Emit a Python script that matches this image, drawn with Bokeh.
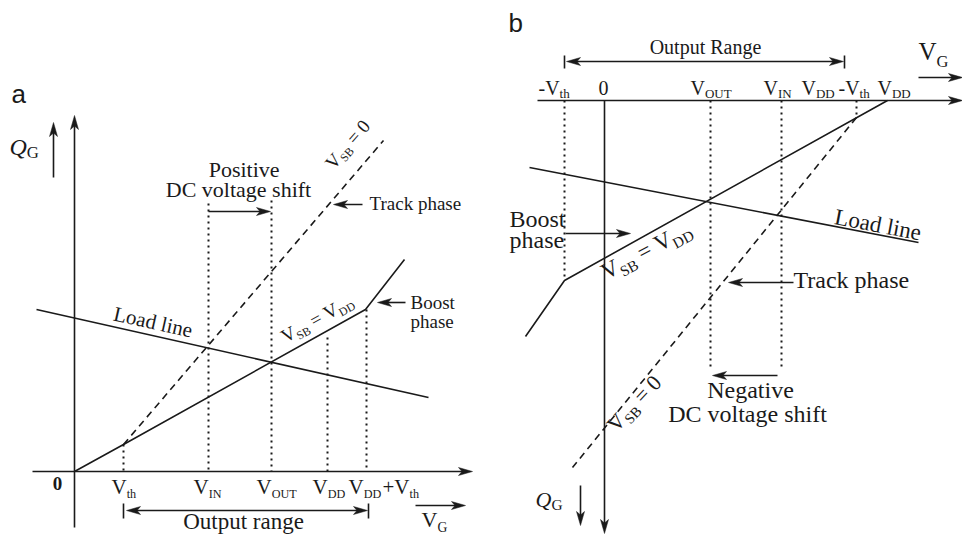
import math
from bokeh.plotting import figure
from bokeh.models import Range1d, ColumnDataSource
from bokeh.core.properties import value
from bokeh.embed import file_html
from bokeh.resources import INLINE

# ---------------- diagram data (page-pixel units) ----------------
# Panel a
A_SOLID_X = [74, 123, 365, 404]
A_SOLID_Y = [471, 444, 309, 259]
A_TRACK_X = [123, 383]
A_TRACK_Y = [444, 140]
A_LOAD_X = [36, 428]
A_LOAD_Y = [309, 397]
A_DOT_X = [123, 208, 271, 327, 366]
A_DOT_TOP = [444, 203, 200, 337, 309]
A_DOT_BOTTOM = [471, 471, 471, 471, 471]
A_RANGE_BAR_X = [123, 368]
A_RANGE_BAR_Y = [503, 518]
# Panel b
B_SOLID_X = [887, 564, 525]
B_SOLID_Y = [100, 280, 336]
B_TRACK_X = [856, 572]
B_TRACK_Y = [117, 467]
B_LOAD_X = [529, 918]
B_LOAD_Y = [167, 242]
B_DOT_X = [564, 710, 781, 856]
B_DOT_TOP = [100, 100, 100, 100]
B_DOT_BOTTOM = [279, 370, 370, 117]
B_RANGE_BAR_X = [564, 844]
B_RANGE_BAR_Y = [55, 68]

# arrows: (x_start, y_start, x_tip, y_tip, double)
ARROWS = [
    (32, 471, 472, 471, False),    # a: V_G axis
    (74, 527, 74, 115, False),     # a: Q_G axis
    (53, 177, 53, 122, False),     # a: Q_G direction
    (208, 211, 270, 211, False),   # a: positive shift
    (362, 204, 333, 204, False),   # a: track phase
    (405, 302, 377, 302, False),   # a: boost phase
    (126, 510, 367, 510, True),    # a: output range
    (415, 505, 465, 505, False),   # a: V_G direction
    (537, 100, 962, 100, False),   # b: V_G axis
    (604, 100, 604, 533, False),   # b: Q_G axis
    (580, 485, 580, 525, False),   # b: Q_G direction
    (566, 61, 843, 61, True),      # b: output range
    (918, 77, 962, 77, False),     # b: V_G direction
    (565, 233, 630, 233, False),   # b: boost phase
    (793, 282, 728, 282, False),   # b: track phase
    (777, 375, 712, 375, False),   # b: negative shift
]

A_TICKS = [
    ([("V", "n"), ("th", "s")], 111),
    ([("V", "n"), ("IN", "s")], 193),
    ([("V", "n"), ("OUT", "s")], 256),
    ([("V", "n"), ("DD", "s")], 312),
    ([("V", "n"), ("DD", "s")], 348),
    ([("+V", "n"), ("th", "s")], 382),
]
B_TICKS = [
    ([("-V", "n"), ("th", "s")], 538),
    ([("0", "n")], 598),
    ([("V", "n"), ("OUT", "s")], 690),
    ([("V", "n"), ("IN", "s")], 763),
    ([("V", "n"), ("DD", "s")], 801),
    ([("-V", "n"), ("th", "s")], 838),
    ([("V", "n"), ("DD", "s")], 877),
]

# ---------------- figure ----------------
W, H = 962, 534
p = figure(width=W, height=H, x_range=Range1d(0, W), y_range=Range1d(H, 0),
           output_backend="svg", toolbar_location=None, min_border=0,
           x_axis_location=None, y_axis_location=None)
p.grid.visible = False
p.outline_line_color = None
p.background_fill_color = "white"

BLACK = "#1a1a1a"
LW = 1.6

p.multi_line([A_SOLID_X, A_LOAD_X, B_SOLID_X, B_LOAD_X],
             [A_SOLID_Y, A_LOAD_Y, B_SOLID_Y, B_LOAD_Y],
             line_color=BLACK, line_width=LW)
p.multi_line([A_TRACK_X, B_TRACK_X], [A_TRACK_Y, B_TRACK_Y],
             line_color=BLACK, line_width=LW, line_dash="7 5")
dx = [[x, x] for x in A_DOT_X + B_DOT_X]
dy = [[t, b] for t, b in zip(A_DOT_TOP + B_DOT_TOP, A_DOT_BOTTOM + B_DOT_BOTTOM)]
p.multi_line(dx, dy, line_color=BLACK, line_width=2, line_dash="2 4")
p.multi_line([[x, x] for x in A_RANGE_BAR_X] + [[x, x] for x in B_RANGE_BAR_X],
             [A_RANGE_BAR_Y] * 2 + [B_RANGE_BAR_Y] * 2,
             line_color=BLACK, line_width=LW)

HL, HW, NOTCH = 14, 4.0, 3.5
shafts_x, shafts_y, heads_x, heads_y = [], [], [], []


def head(tx, ty, ux, uy):
    nx, ny = -uy, ux
    heads_x.append([tx, tx - HL * ux + HW * nx, tx - (HL - NOTCH) * ux, tx - HL * ux - HW * nx])
    heads_y.append([ty, ty - HL * uy + HW * ny, ty - (HL - NOTCH) * uy, ty - HL * uy - HW * ny])


for x0, y0, x1, y1, dbl in ARROWS:
    L = math.hypot(x1 - x0, y1 - y0)
    ux, uy = (x1 - x0) / L, (y1 - y0) / L
    head(x1, y1, ux, uy)
    ex, ey = x1 - (HL - NOTCH) * ux, y1 - (HL - NOTCH) * uy
    sx, sy = x0, y0
    if dbl:
        head(x0, y0, -ux, -uy)
        sx, sy = x0 + (HL - NOTCH) * ux, y0 + (HL - NOTCH) * uy
    shafts_x.append([sx, ex])
    shafts_y.append([sy, ey])

p.multi_line(shafts_x, shafts_y, line_color=BLACK, line_width=LW)
p.patches(heads_x, heads_y, fill_color=BLACK, line_color=BLACK, line_width=0.5)

NB = "\u00a0"
TW = {" ": 250, NB: 250, "+": 564, "-": 333, "=": 564, "0": 500,
      "A": 722, "B": 667, "C": 667, "D": 722, "G": 722, "I": 333, "N": 722, "O": 722,
      "Q": 722, "R": 667, "S": 556, "T": 611, "U": 722, "V": 722, "L": 611,
      "a": 444, "b": 500, "c": 444, "d": 500, "e": 444, "f": 333, "g": 500, "h": 500,
      "i": 278, "k": 500, "l": 278, "n": 500, "o": 500, "p": 500, "r": 333, "s": 389,
      "t": 278, "u": 500, "v": 500, "y": 500}

BASE = 0.35   # observed baseline correction (fraction of font size)
T = dict(x=[], y=[], text=[], size=[], angle=[], style=[])


def measure(s, fs):
    return sum(TW.get(c, 500) for c in s) / 1000.0 * fs


def place(parts, x, y, size, angle=0.0, align="left", sub=0.62, drop=0.2, store=T):
    th = math.radians(angle)
    ux, uy = math.cos(th), -math.sin(th)
    px, py = math.sin(th), math.cos(th)
    sizes = [size * sub if k == "s" else size for _, k in parts]
    widths = [measure(t, fs) for (t, _), fs in zip(parts, sizes)]
    total = sum(widths)
    adv = {"left": 0.0, "center": -total / 2.0, "right": -total}[align]
    for (t, k), fs, w in zip(parts, sizes, widths):
        d = (size * drop if k == "s" else 0.0) - BASE * fs
        store["x"].append(x + ux * adv + px * d)
        store["y"].append(y + uy * adv + py * d)
        store["text"].append(t)
        store["size"].append("%.1fpx" % fs)
        store["angle"].append(th)
        store["style"].append({"i": "italic", "b": "bold"}.get(k, "normal"))
        adv += w


EQ0 = NB + "=" + NB + "0"
EQV = NB + "=" + NB + "V"

# panel a
place([("Q", "i"), ("G", "s")], 9, 155, 24, sub=0.7, drop=0.1)
place([("0", "b")], 57, 490, 19, align="center")
for parts, x in A_TICKS:
    place(parts, x, 494, 21, sub=0.58)
place([("Positive", "n")], 243, 177, 22, align="center")
place([("DC voltage shift", "n")], 238, 197, 22, align="center")
place([("Track phase", "n")], 369, 210, 19)
place([("Boost", "n")], 410, 309, 19)
place([("phase", "n")], 410, 328, 19)
place([("V", "n"), ("SB", "s"), (EQ0, "n")], 333, 170, 19, angle=49)
place([("V", "n"), ("SB", "s"), (EQV, "n"), ("DD", "s")], 285, 343, 19, angle=29)
place([("Load line", "n")], 112, 320, 21, angle=-12.6)
place([("Output range", "n")], 243, 529, 23, align="center")
place([("V", "n"), ("G", "s")], 421, 527, 22)

# panel b
place([("Output Range", "n")], 705, 53, 20, align="center")
place([("V", "n"), ("G", "s")], 918, 60, 25, sub=0.66, drop=0.27)
for parts, x in B_TICKS:
    place(parts, x, 94, 20, sub=0.65)
place([("Boost", "n")], 509, 227, 24)
place([("phase", "n")], 509, 248, 24)
place([("Load line", "n")], 833, 224, 23, angle=-10.8)
place([("Track phase", "n")], 793, 288, 24)
place([("Negative", "n")], 750, 398, 24, align="center")
place([("DC voltage shift", "n")], 747, 422, 24, align="center")
place([("V", "n"), ("SB", "s"), (EQ0, "n")], 616, 433, 22, angle=47, sub=0.66)
place([("V", "n"), ("SB", "s"), (EQV, "n"), ("DD", "s")], 606, 280, 23, angle=28, sub=0.66)
place([("Q", "i"), ("G", "s")], 535, 507, 22, sub=0.7, drop=0.1)

src = ColumnDataSource(T)
p.text(x="x", y="y", text="text", source=src, text_font=value("Liberation Serif"),
       text_font_size="size", text_font_style="style", angle="angle",
       text_align="left", text_baseline="alphabetic", text_color=BLACK)

S = dict(x=[], y=[], text=[], size=[], angle=[], style=[])
place([("a", "n")], 11, 103, 26, store=S)
place([("b", "n")], 508, 32, 26, store=S)
p.text(x="x", y="y", text="text", source=ColumnDataSource(S), text_font=value("Liberation Sans"),
       text_font_size="size", text_align="left", text_baseline="alphabetic", text_color=BLACK)

open("out.html", "w").write(file_html(p, INLINE))
